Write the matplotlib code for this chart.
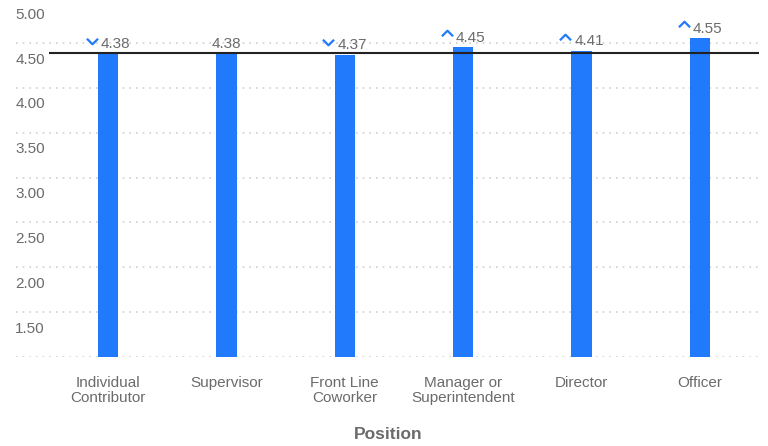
import matplotlib.pyplot as plt
import matplotlib.transforms as mtransforms
from matplotlib.path import Path
import numpy as np

plt.rcParams['font.family'] = ['Liberation Sans', 'DejaVu Sans']

positions = ['Individual\nContributor', 'Supervisor', 'Front Line\nCoworker',
             'Manager or\nSuperintendent', 'Director', 'Officer']
scores = [4.38, 4.38, 4.37, 4.45, 4.41, 4.55]
trend = ['down', None, 'down', 'up', 'up', 'up']  # arrow shown next to each score
benchmark = 4.39
y_ticks = [1.0, 1.5, 2.0, 2.5, 3.0, 3.5, 4.0, 4.5, 5.0]

blue = '#2179FC'
grey = '#6b6b6b'

fig = plt.figure(figsize=(7.68, 4.46), dpi=100)
W, H = 768, 446
ax = fig.add_axes([16 / W, (H - 357) / H, 744 / W, 359 / H])

x = np.arange(len(positions))
step = 118.4
ax.set_xlim((16 - 108) / step, (760 - 108) / step)
ax.set_ylim(1.0, 5.0)

# dotted grid plus tick labels sitting just under each line
for t in y_ticks:
    ax.axhline(t, color='#cfcfcf', lw=1.2, ls=(0, (1, 3)), zorder=0)
    if t > 1.0:
        ax.annotate('{:.2f}'.format(t), xy=(0, t), xycoords=('axes fraction', 'data'),
                    xytext=(-0.5, -12), textcoords='offset points',
                    ha='left', va='center', fontsize=11, color=grey)

ax.bar(x, scores, width=0.172, bottom=0, color=blue, zorder=2)
ax.hlines(benchmark, -0.5, len(positions) - 0.5, color='#222222', lw=1.5, zorder=3)

up = Path([(-1, -0.5), (0, 0.5), (1, -0.5)], [Path.MOVETO, Path.LINETO, Path.LINETO])
down = Path([(-1, 0.5), (0, -0.5), (1, 0.5)], [Path.MOVETO, Path.LINETO, Path.LINETO])

for i, (v, tr) in enumerate(zip(scores, trend)):
    if tr is None:
        ax.annotate('{:.2f}'.format(v), xy=(i, v), xytext=(0, 7),
                    textcoords='offset points', ha='center', va='center',
                    fontsize=11, color=grey)
        continue
    ax.annotate('{:.2f}'.format(v), xy=(i, v), xytext=(-5.2, 7),
                textcoords='offset points', ha='left', va='center',
                fontsize=11, color=grey)
    off = mtransforms.offset_copy(ax.transData, fig=fig, x=-16.5,
                                  y=12.5 if tr == 'down' else 14, units='dots')
    ax.plot([i], [v], transform=off, marker=up if tr == 'up' else down,
            markersize=8, markerfacecolor='none', markeredgecolor=blue,
            markeredgewidth=1.6, linestyle='none', clip_on=False, zorder=4)

ax.set_yticks([])
ax.set_xticks(x)
ax.set_xticklabels(positions, fontsize=11, color=grey, linespacing=1.12)
ax.tick_params(axis='x', length=0, pad=13.5)
ax.set_xlabel('Position', fontsize=12.5, fontweight='bold', color=grey, labelpad=16)

for s in ax.spines.values():
    s.set_visible(False)

fig.savefig('out.png', dpi=100)
